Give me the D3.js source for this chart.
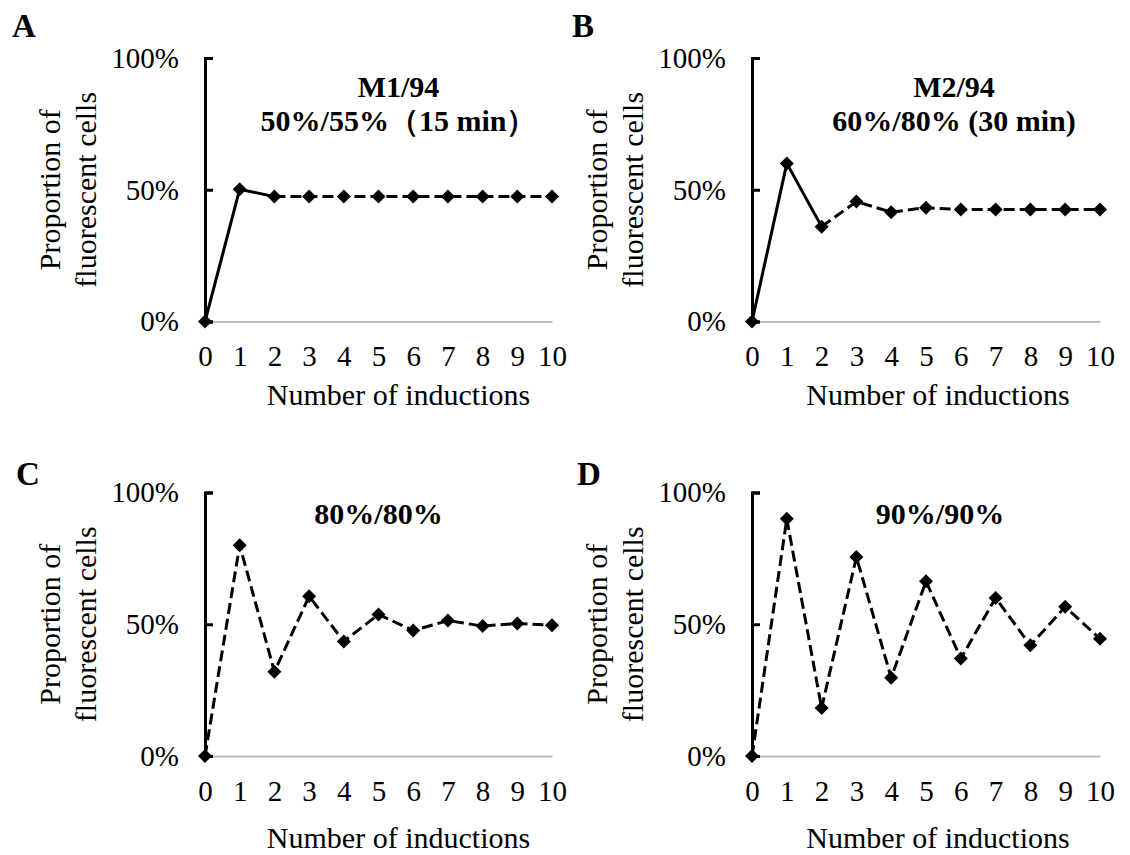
<!DOCTYPE html>
<html>
<head>
<meta charset="utf-8">
<script src="https://cdn.jsdelivr.net/npm/d3@7"></script>
<style>
  html, body { margin: 0; padding: 0; background: #fff; }
  svg { display: block; }
  svg text { font-family: "Liberation Serif", Tinos, "Times New Roman", Times, "DejaVu Serif", "Noto Serif", serif; }
</style>
</head>
<body>
<svg id="chart" width="1130" height="855"></svg>
<script>
// Induction counts on the x axis and percentage ticks on the y axis
const inductions = [0, 1, 2, 3, 4, 5, 6, 7, 8, 9, 10];
const yTicks = [0, 50, 100];

// Proportion of fluorescent cells (%) after each induction
const seriesA = [0, 50.2, 47.4, 47.4, 47.4, 47.4, 47.4, 47.4, 47.4, 47.4, 47.4];
const seriesB = [0, 60, 36, 45.5, 41.5, 43.2, 42.5, 42.5, 42.5, 42.5, 42.5];
const seriesC = [0, 80, 32, 60.6, 43.5, 53.7, 47.6, 51.4, 49.3, 50.3, 49.6];
const seriesD = [0, 90, 18.2, 75.5, 29.7, 66.3, 37, 60, 42, 56.6, 44.5];

// Panel letters, titles, and the index where the solid part of each line ends
const panelLetters = ["A", "B", "C", "D"];
const panelTitles = [
  ["M1/94", "50%/55%（15 min）"],
  ["M2/94", "60%/80% (30 min)"],
  ["80%/80%"],
  ["90%/90%"]
];
const solidUntil = [2, 2, 0, 0];
const yTitle = ["Proportion of", "fluorescent cells"];
const xTitle = "Number of inductions";

const seriesList = [seriesA, seriesB, seriesC, seriesD];

// Plot frames for the 2x2 grid
const frames = [
  { x0: 205, x1: 552, y0: 58, y1: 321.5, titleDx: 20, letterX: 12, letterY: 37 },
  { x0: 752, x1: 1100, y0: 58, y1: 321.5, titleDx: 28, letterX: 572, letterY: 37 },
  { x0: 205, x1: 552, y0: 492.5, y1: 756, titleDx: 0, letterX: 16, letterY: 485 },
  { x0: 752, x1: 1100, y0: 492.5, y1: 756, titleDx: 14, letterX: 577, letterY: 485 }
];

const svg = d3.select("#chart");
const diamond = d3.symbol().type(d3.symbolSquare).size(98);

frames.forEach((f, i) => {
  const data = seriesList[i];
  const x = d3.scaleLinear().domain([0, 10]).range([f.x0, f.x1]);
  const y = d3.scaleLinear().domain([0, 100]).range([f.y1, f.y0]);
  const g = svg.append("g");

  // x axis: light grey baseline with numeric labels
  const xAxis = g.append("g")
    .attr("transform", `translate(0,${f.y1})`)
    .call(d3.axisBottom(x).tickValues(inductions).tickSize(0).tickPadding(24).tickFormat(d3.format("d")));
  xAxis.attr("font-family", null).attr("font-size", null);
  xAxis.select(".domain").attr("stroke", "#bfbfbf").attr("stroke-width", 2);
  xAxis.selectAll("text").attr("font-size", 29).attr("fill", "#000");

  // y axis: black line with ticks pointing into the plot
  const yAxis = g.append("g")
    .attr("transform", `translate(${f.x0},0)`)
    .call(d3.axisLeft(y).tickValues(yTicks).tickSizeInner(-8).tickSizeOuter(-8)
      .tickPadding(26).tickFormat(d => d + "%"));
  yAxis.attr("font-family", null).attr("font-size", null);
  yAxis.select(".domain").attr("stroke", "#000").attr("stroke-width", 3);
  yAxis.selectAll(".tick line").attr("stroke", "#000").attr("stroke-width", 3);
  yAxis.selectAll("text").attr("font-size", 29).attr("fill", "#000");

  // Line segments: solid up to solidUntil[i], dashed afterwards
  const pts = inductions.map((n, k) => [x(n), y(data[k])]);
  const line = d3.line();
  const s = solidUntil[i];
  if (s > 0) {
    g.append("path").attr("d", line(pts.slice(0, s + 1)))
      .attr("fill", "none").attr("stroke", "#000").attr("stroke-width", 3)
      .attr("stroke-linejoin", "round");
  }
  g.append("path").attr("d", line(pts.slice(s)))
    .attr("fill", "none").attr("stroke", "#000").attr("stroke-width", 3)
    .attr("stroke-dasharray", "11,5").attr("stroke-linejoin", "round");

  // Diamond markers
  g.selectAll(".mk").data(inductions).enter().append("path")
    .attr("class", "mk")
    .attr("d", diamond)
    .attr("transform", (n, k) => `translate(${x(n)},${y(data[k])}) rotate(45)`)
    .attr("fill", "#000");

  // Panel title (bold, one or two lines)
  const cx = (f.x0 + f.x1) / 2 + f.titleDx;
  const titleBase = f.y0 + (panelTitles[i].length === 2 ? 39 : 31.5);
  panelTitles[i].forEach((t, k) => {
    g.append("text").attr("x", cx).attr("y", titleBase + k * 34)
      .attr("text-anchor", "middle").attr("font-weight", "bold")
      .attr("font-size", 30).text(t);
  });

  // Panel letter
  g.append("text").attr("x", f.letterX).attr("y", f.letterY)
    .attr("font-weight", "bold").attr("font-size", 33).text(panelLetters[i]);

  // y axis title (two rotated lines)
  const cy = (f.y0 + f.y1) / 2;
  const yt = g.append("text")
    .attr("transform", `translate(${f.x0 - 145},${cy}) rotate(-90)`)
    .attr("text-anchor", "middle").attr("font-size", 30);
  yt.append("tspan").attr("x", 0).attr("y", 0).text(yTitle[0]);
  yt.append("tspan").attr("x", 0).attr("y", 36).text(yTitle[1]);

  // x axis title
  g.append("text").attr("x", (f.x0 + f.x1) / 2 + (i % 2 === 0 ? 20 : 12))
    .attr("y", f.y1 + (i < 2 ? 83.5 : 92))
    .attr("text-anchor", "middle").attr("font-size", 30).text(xTitle);
});
</script>
</body>
</html>
